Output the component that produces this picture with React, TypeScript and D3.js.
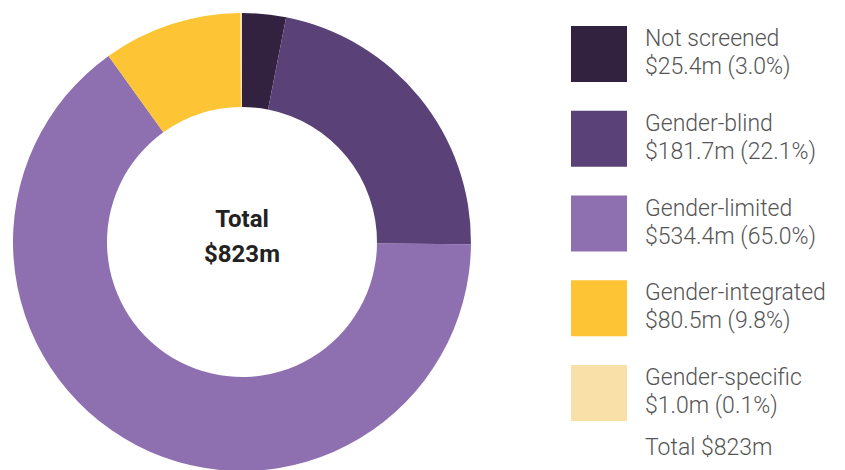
import React from "react";
import * as d3 from "d3";

const categories = ["Not screened", "Gender-blind", "Gender-limited", "Gender-integrated", "Gender-specific"];
const values = [25.4, 181.7, 534.4, 80.5, 1.0];
const valueLabels = ["$25.4m (3.0%)", "$181.7m (22.1%)", "$534.4m (65.0%)", "$80.5m (9.8%)", "$1.0m (0.1%)"];
const colors = ["#32223f", "#5a4178", "#8e70b0", "#fdc435", "#f9e0a8"];
const totalLabel = "$823m";

export default function App() {
  const W = 845, H = 470;
  const cx = 242, cy = 242, rOuter = 229, rInner = 135;
  const pie = d3.pie<number>().sort(null).value((d) => d);
  const arcs = pie(values);
  const arc = d3.arc<d3.PieArcDatum<number>>().innerRadius(rInner).outerRadius(rOuter);
  const legendY = d3.scaleLinear().domain([0, 4]).range([26, 365]);
  const font = "Roboto, 'DejaVu Sans', sans-serif";
  return (
    <svg width={W} height={H} style={{ position: "absolute", left: 0, top: 0 }}>
      <rect width={W} height={H} fill="#fff" />
      <g transform={`translate(${cx},${cy})`}>
        {arcs.map((a, i) => (
          <path key={i} d={arc(a) || ""} fill={colors[i]} />
        ))}
        <text textAnchor="middle" y={-15} fontFamily={font} fontWeight={700} fontSize={24} fill="#222">Total</text>
        <text textAnchor="middle" y={20} fontFamily={font} fontWeight={700} fontSize={24} fill="#222">{totalLabel}</text>
      </g>
      {categories.map((c, i) => {
        const y = legendY(i);
        return (
          <g key={c}>
            <rect x={571} y={y} width={56} height={56} fill={colors[i]} />
            <text x={645} y={y + 20} fontFamily={font} fontWeight={300} fontSize={23} fill="#555">{c}</text>
            <text x={645} y={y + 48} fontFamily={font} fontWeight={300} fontSize={23} fill="#555">{valueLabels[i]}</text>
          </g>
        );
      })}
      <text x={645} y={455} fontFamily={font} fontWeight={300} fontSize={23} fill="#555">Total {totalLabel}</text>
    </svg>
  );
}
